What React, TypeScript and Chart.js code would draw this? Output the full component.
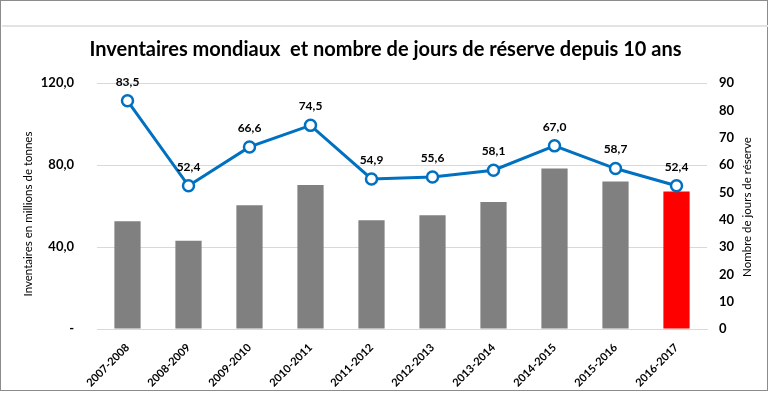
import React, { useEffect, useRef } from "react";
import { Chart, registerables } from "chart.js";

Chart.register(...registerables);

const categories = [
  "2007-2008", "2008-2009", "2009-2010", "2010-2011", "2011-2012",
  "2012-2013", "2013-2014", "2014-2015", "2015-2016", "2016-2017",
];
const inventories = [52.6, 43.0, 60.4, 70.2, 53.1, 55.5, 61.9, 78.3, 71.9, 67.1];
const reserveDays = [83.5, 52.4, 66.6, 74.5, 54.9, 55.6, 58.1, 67.0, 58.7, 52.4];
const barColors = ["#808080", "#808080", "#808080", "#808080", "#808080", "#808080", "#808080", "#808080", "#808080", "#FF0000"];

const titleText = "Inventaires mondiaux  et nombre de jours de réserve depuis 10 ans";
const leftTitle = "Inventaires en millions de tonnes";
const rightTitle = "Nombre de jours de réserve";

const FONT = "Lato, 'Open Sans', sans-serif";

const pointLabels = {
  id: "pointLabels",
  afterDatasetsDraw(chart: any) {
    const ctx = chart.ctx;
    const meta = chart.getDatasetMeta(1);
    ctx.save();
    ctx.font = `bold 12px ${FONT}`;
    ctx.fillStyle = "#000";
    ctx.textAlign = "center";
    ctx.textBaseline = "middle";
    meta.data.forEach((pt: any, i: number) => {
      const v = reserveDays[i].toFixed(1).replace(".", ",");
      ctx.fillText(v, pt.x, pt.y - 19);
    });
    ctx.restore();
  },
};

const axisTitles = {
  id: "axisTitles",
  afterDraw(chart: any) {
    const ctx = chart.ctx;
    const ca = chart.chartArea;
    const yL = chart.scales.y;
    const yR = chart.scales.y1;
    ctx.save();
    ctx.font = `11.5px ${FONT}`;
    ctx.fillStyle = "#000";
    ctx.textAlign = "center";
    ctx.textBaseline = "middle";
    // left title
    ctx.save();
    ctx.translate(yL.left + 28, (ca.top + ca.bottom) / 2 + 8);
    ctx.rotate(-Math.PI / 2);
    ctx.fillText(leftTitle, 0, 0);
    ctx.restore();
    // right title (reads bottom-to-top as well)
    ctx.save();
    ctx.translate(yR.left + 40, (ca.top + ca.bottom) / 2 + 1);
    ctx.rotate(-Math.PI / 2);
    ctx.fillText(rightTitle, 0, 0);
    ctx.restore();
    ctx.restore();
  },
};

export default function App() {
  const ref = useRef<HTMLCanvasElement>(null);
  useEffect(() => {
    if (!ref.current) return;
    const chart = new Chart(ref.current, {
      type: "bar",
      data: {
        labels: categories,
        datasets: [
          {
            type: "bar",
            label: "Inventaires",
            data: inventories,
            backgroundColor: barColors,
            yAxisID: "y",
            barPercentage: 0.43,
            categoryPercentage: 1,
            order: 2,
          },
          {
            type: "line",
            label: "Jours",
            data: reserveDays,
            borderColor: "#0070C0",
            borderWidth: 3,
            backgroundColor: "#FFFFFF",
            pointBackgroundColor: "#FFFFFF",
            pointBorderColor: "#0070C0",
            pointBorderWidth: 2.5,
            pointRadius: 5.5,
            yAxisID: "y1",
            tension: 0,
            order: 1,
          } as any,
        ],
      },
      options: {
        responsive: false,
        animation: false,
        layout: { padding: { top: 0, left: 0, right: 0, bottom: 0 } },
        plugins: {
          legend: { display: false },
          tooltip: { enabled: false },
          title: {
            display: true,
            text: titleText,
            color: "#000",
            font: { family: FONT, size: 20, weight: "bold", lineHeight: 1.2 },
            padding: { top: 38, bottom: 21 },
          },
        },
        scales: {
          x: {
            grid: { display: false },
            border: { display: true, color: "#D9D9D9", width: 1 },
            ticks: {
              color: "#000",
              font: { family: FONT, size: 11, weight: "bold" },
              minRotation: 45,
              maxRotation: 45,
              autoSkip: false,
              padding: 4,
            },
            afterFit: (s: any) => { s.height = 64; },
          },
          y: {
            position: "left",
            min: 0,
            max: 120,
            ticks: {
              stepSize: 40,
              color: "#000",
              font: { family: FONT, size: 13, weight: "bold" },
              padding: 23,
              callback: (v: any) => (v === 0 ? "-" : Number(v).toFixed(1).replace(".", ",")),
            },
            grid: { color: "#D9D9D9", lineWidth: 1, drawTicks: false },
            border: { display: false },
            afterFit: (s: any) => { s.width = 97; },
          },
          y1: {
            position: "right",
            min: 0,
            max: 90,
            ticks: {
              stepSize: 10,
              color: "#000",
              font: { family: FONT, size: 13, weight: "bold" },
              padding: 12,
            },
            grid: { display: false, drawTicks: false },
            border: { display: false },
            afterFit: (s: any) => { s.width = 64; },
          },
        },
      } as any,
      plugins: [pointLabels, axisTitles],
    });
    return () => chart.destroy();
  }, []);

  return (
    <div style={{ position: "absolute", left: 0, top: 0, width: 771, height: 393, background: "#fff" }}>
      <canvas ref={ref} width={771} height={393} style={{ position: "absolute", left: 0, top: 0, width: 771, height: 393 }} />
      <div style={{ position: "absolute", left: 0, top: 0, width: 766, height: 389, border: "1.5px solid #8C8C8C", pointerEvents: "none" }} />
      <div style={{ position: "absolute", left: 2, top: 25, width: 766, height: 2, background: "#E3E3E3", pointerEvents: "none" }} />
    </div>
  );
}
